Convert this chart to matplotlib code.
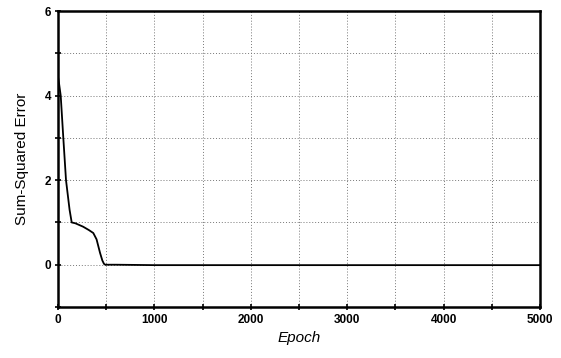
import numpy as np
import matplotlib.pyplot as plt
from matplotlib.ticker import MultipleLocator

# training error curve
epoch = [0, 10, 28, 55, 83, 120, 142, 180, 260, 320, 366, 400, 436, 460, 477, 490, 600, 1000, 2000, 3000, 4000, 5000]
sse = [4.45, 4.3, 4.0, 3.0, 2.0, 1.3, 1.0, 0.98, 0.9, 0.82, 0.75, 0.6, 0.28, 0.1, 0.02, 0.0, 0.0, -0.01, -0.01, -0.01, -0.01, -0.01]

x_ticks = [0, 1000, 2000, 3000, 4000, 5000]
y_ticks = [0, 2, 4, 6]

plt.rcParams["font.family"] = ["Liberation Sans", "DejaVu Sans"]

fig = plt.figure(figsize=(5.61, 3.58), dpi=100)
ax = fig.add_axes([0.1034, 0.1425, 0.8592, 0.8265])

ax.plot(epoch, sse, color="black", lw=1.3)

ax.set_xlim(0, 5000)
ax.set_ylim(-1, 6)
ax.set_xticks(x_ticks)
ax.set_yticks(y_ticks)
ax.xaxis.set_minor_locator(MultipleLocator(500))
ax.yaxis.set_minor_locator(MultipleLocator(1))
ax.grid(True, which="both", color="#777777", ls=(0, (1, 2)), lw=0.7)

ax.tick_params(which="both", direction="inout", length=4, width=1.2,
               labelsize=8.5, pad=3)
for lab in ax.get_xticklabels() + ax.get_yticklabels():
    lab.set_fontweight("bold")

for sp in ax.spines.values():
    sp.set_linewidth(1.8)

ax.set_xlabel("Epoch", fontsize=11, style="italic", labelpad=4)
ax.set_ylabel("Sum-Squared Error", fontsize=11, labelpad=11)

fig.savefig("out.png", dpi=100)
